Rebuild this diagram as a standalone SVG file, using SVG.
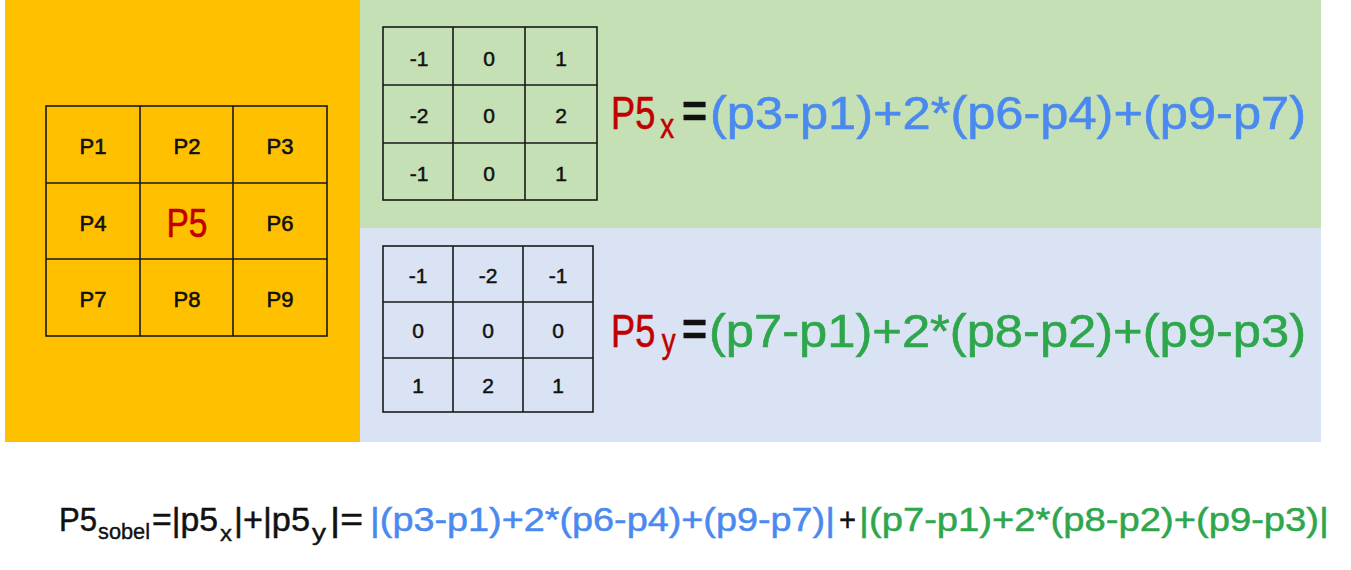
<svg xmlns="http://www.w3.org/2000/svg" width="1351" height="570" viewBox="0 0 1351 570">
<style>
text{font-family:"Liberation Sans",Arial,sans-serif;}
.grid{fill:none;stroke:#1a1a1a;stroke-width:1.6;}
.cell{font-size:22px;fill:#111;text-anchor:middle;stroke:#111;stroke-width:0.6;}
.k{font-size:21px;fill:#111;text-anchor:middle;stroke:#111;stroke-width:0.5;}
.red{fill:#C00000;stroke:#C00000;}
.blk{fill:#111;stroke:#111;}
.blue{fill:#4A89F0;stroke:#4A89F0;}
.green{fill:#2EA64C;stroke:#2EA64C;}
.f1{font-size:47px;stroke-width:0.6;}
.f2{font-size:34px;stroke-width:0.5;}
.sub2{font-size:22px;stroke-width:0.4;}
</style>
<rect x="0" y="0" width="1351" height="570" fill="#ffffff"/>
<rect x="5" y="0" width="355" height="442" fill="#FFC000"/>
<rect x="360" y="0" width="961" height="228" fill="#C5E0B4"/>
<rect x="360" y="228" width="961" height="214" fill="#DAE3F3"/>

<g id="pixel-grid">
<rect class="grid" x="46" y="106" width="281" height="230"/>
<path class="grid" d="M140 106V336M233 106V336M46 183H327M46 259H327"/>
<text class="cell" x="93" y="154">P1</text>
<text class="cell" x="187" y="154">P2</text>
<text class="cell" x="280" y="154">P3</text>
<text class="cell" x="93" y="231">P4</text>
<text x="187" y="237" font-size="40" class="red" stroke-width="0.6" text-anchor="middle" textLength="41" lengthAdjust="spacingAndGlyphs">P5</text>
<text class="cell" x="280" y="231">P6</text>
<text class="cell" x="93" y="307">P7</text>
<text class="cell" x="187" y="307">P8</text>
<text class="cell" x="280" y="307">P9</text>
</g>

<g id="kernel-x">
<rect class="grid" x="383" y="27" width="214" height="173"/>
<path class="grid" d="M453 27V200M525 27V200M383 85H597M383 143H597"/>
<text class="k" x="419" y="66">-1</text>
<text class="k" x="489" y="66">0</text>
<text class="k" x="561" y="66">1</text>
<text class="k" x="419" y="123">-2</text>
<text class="k" x="489" y="123">0</text>
<text class="k" x="561" y="123">2</text>
<text class="k" x="419" y="181">-1</text>
<text class="k" x="489" y="181">0</text>
<text class="k" x="561" y="181">1</text>
</g>

<g id="kernel-y">
<rect class="grid" x="383" y="246" width="210" height="166"/>
<path class="grid" d="M453 246V412M523 246V412M383 302H593M383 358H593"/>
<text class="k" x="418" y="283">-1</text>
<text class="k" x="488" y="283">-2</text>
<text class="k" x="558" y="283">-1</text>
<text class="k" x="418" y="338">0</text>
<text class="k" x="488" y="338">0</text>
<text class="k" x="558" y="338">0</text>
<text class="k" x="418" y="393">1</text>
<text class="k" x="488" y="393">2</text>
<text class="k" x="558" y="393">1</text>
</g>

<g id="formula-x">
<text class="f1 red" transform="translate(611,129) scale(0.77,1)" x="0" y="0">P5<tspan x="64" y="9" font-size="36">x</tspan></text>
<text class="f1 blk" x="682" y="127" font-weight="bold" textLength="25" lengthAdjust="spacingAndGlyphs">=</text>
<text class="f1 blue" x="710" y="129" textLength="596" lengthAdjust="spacingAndGlyphs">(p3-p1)+2*(p6-p4)+(p9-p7)</text>
</g>

<g id="formula-y">
<text class="f1 red" transform="translate(611,347) scale(0.77,1)" x="0" y="0">P5<tspan x="66" y="6" font-size="36">y</tspan></text>
<text class="f1 blk" x="682" y="345" font-weight="bold" textLength="25" lengthAdjust="spacingAndGlyphs">=</text>
<text class="f1 green" x="709" y="347" textLength="597" lengthAdjust="spacingAndGlyphs">(p7-p1)+2*(p8-p2)+(p9-p3)</text>
</g>

<g id="formula-sobel">
<text class="f2 blk" x="59" y="531" textLength="38" lengthAdjust="spacingAndGlyphs">P5</text>
<text class="sub2 blk" x="98" y="539" textLength="52" lengthAdjust="spacingAndGlyphs">sobel</text>
<text class="f2 blk" x="152" y="531" textLength="66" lengthAdjust="spacingAndGlyphs">=|p5</text>
<text class="sub2 blk" x="220" y="541" textLength="12" lengthAdjust="spacingAndGlyphs">x</text>
<text class="f2 blk" x="234" y="531" textLength="76" lengthAdjust="spacingAndGlyphs">|+|p5</text>
<text class="sub2 blk" x="312" y="540" textLength="14" lengthAdjust="spacingAndGlyphs">y</text>
<text class="f2 blk" x="330" y="531" textLength="33" lengthAdjust="spacingAndGlyphs">|=</text>
<text class="f2 blue" x="370" y="531" textLength="465" lengthAdjust="spacingAndGlyphs">|(p3-p1)+2*(p6-p4)+(p9-p7)|</text>
<text class="f2 blk" x="839" y="531" textLength="17" lengthAdjust="spacingAndGlyphs">+</text>
<text class="f2 green" x="859" y="531" textLength="470" lengthAdjust="spacingAndGlyphs">|(p7-p1)+2*(p8-p2)+(p9-p3)|</text>
</g>
</svg>
